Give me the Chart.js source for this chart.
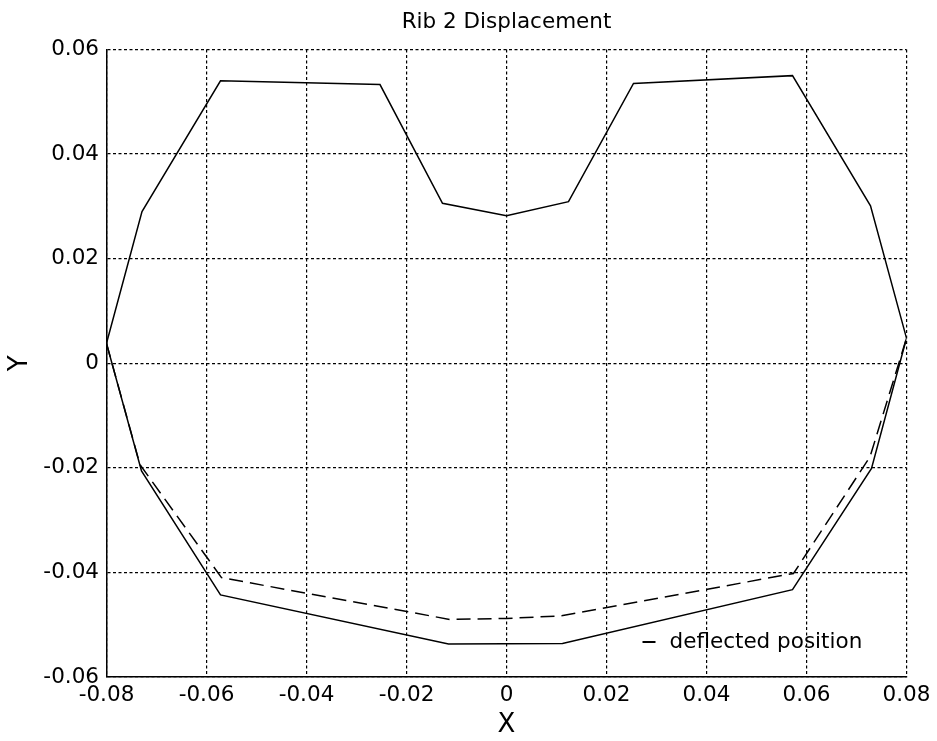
<!DOCTYPE html>
<html>
<head>
<meta charset="utf-8">
<script src="https://cdn.jsdelivr.net/npm/chart.js@4.4.1/dist/chart.umd.min.js"></script>
<style>
  html, body { margin: 0; padding: 0; background: #fff; }
  #wrap { width: 937px; height: 741px; }
</style>
</head>
<body>
<div id="wrap"><canvas id="c" width="937" height="741"></canvas></div>
<script>
// ---- data ----
const titleText = 'Rib 2 Displacement';
const xAxisTitle = 'X';
const yAxisTitle = 'Y';
const legendText = 'deflected position';

// original (solid) rib outline, closed loop
const solidX = [-0.08, -0.0729, -0.0572, -0.0253, -0.0128, 0.0, 0.0124, 0.0254, 0.0572, 0.0728, 0.080, 0.0730, 0.0572, 0.0112, -0.0116, -0.0572, -0.0730, -0.08];
const solidY = [0.0038, 0.0290, 0.0540, 0.0533, 0.0306, 0.0282, 0.0309, 0.0535, 0.0550, 0.0301, 0.0048, -0.0201, -0.0433, -0.0536, -0.0537, -0.0443, -0.0206, 0.0038];

// deflected (dashed) lower surface
const dashX = [-0.08, -0.0733, -0.0570, -0.0113, 0.0, 0.0110, 0.0574, 0.0727, 0.080];
const dashY = [0.0038, -0.0194, -0.0410, -0.0490, -0.0488, -0.0483, -0.0402, -0.0179, 0.0048];

const xTickValues = [-0.08, -0.06, -0.04, -0.02, 0, 0.02, 0.04, 0.06, 0.08];
const xTickLabels = ['-0.08', '-0.06', '-0.04', '-0.02', '0', '0.02', '0.04', '0.06', '0.08'];
const yTickValues = [-0.06, -0.04, -0.02, 0, 0.02, 0.04, 0.06];
const yTickLabels = ['-0.06', '-0.04', '-0.02', '0', '0.02', '0.04', '0.06'];

// ---- build ----
const toPts = (xs, ys) => xs.map((x, i) => ({x: x, y: ys[i]}));
const FONT = 'DejaVu Sans';

const legendPlugin = {
  id: 'cornerLegend',
  afterDraw(chart) {
    const {ctx, chartArea} = chart;
    ctx.save();
    const y = chartArea.bottom - 35;
    const x0 = chartArea.right - 264;
    ctx.strokeStyle = '#000';
    ctx.lineWidth = 2;
    ctx.beginPath();
    ctx.moveTo(x0, y);
    ctx.lineTo(x0 + 13, y);
    ctx.stroke();
    ctx.fillStyle = '#000';
    ctx.font = '21.5px "' + FONT + '"';
    ctx.textAlign = 'left';
    ctx.textBaseline = 'middle';
    ctx.fillText(legendText, x0 + 27, y);
    ctx.restore();
  }
};

new Chart(document.getElementById('c'), {
  type: 'scatter',
  data: {
    datasets: [
      {
        label: 'original position',
        data: toPts(solidX, solidY),
        showLine: true,
        borderColor: '#000',
        borderWidth: 1.5,
        pointRadius: 0,
        tension: 0,
        fill: false
      },
      {
        label: legendText,
        data: toPts(dashX, dashY),
        showLine: true,
        borderColor: '#000',
        borderWidth: 1.5,
        borderDash: [14, 7],
        pointRadius: 0,
        tension: 0,
        fill: false
      }
    ]
  },
  options: {
    responsive: false,
    animation: false,
    layout: { padding: { left: 0, top: 0, right: 30.5, bottom: 0 } },
    plugins: {
      legend: { display: false },
      tooltip: { enabled: false },
      title: {
        display: true,
        text: titleText,
        fullSize: false,
        color: '#000',
        font: { family: FONT, size: 21.5, weight: 'normal' },
        padding: { top: 10, bottom: 13.7 }
      }
    },
    scales: {
      x: {
        type: 'linear',
        min: -0.08,
        max: 0.08,
        afterBuildTicks(scale) { scale.ticks = xTickValues.map(v => ({value: v})); },
        afterFit(scale) { scale.height = 64; },
        ticks: {
          color: '#000',
          font: { family: FONT, size: 21.5 },
          padding: 6,
          maxRotation: 0,
          autoSkip: false,
          callback: (v, i) => xTickLabels[i]
        },
        grid: { color: '#000', lineWidth: 1.2, drawTicks: false },
        border: { display: true, color: '#000', width: 1.5, dash: [3, 2.5] },
        title: {
          display: true,
          text: xAxisTitle,
          color: '#000',
          font: { family: FONT, size: 26 },
          padding: { top: 0, bottom: 0 }
        }
      },
      y: {
        type: 'linear',
        min: -0.06,
        max: 0.06,
        afterBuildTicks(scale) { scale.ticks = yTickValues.map(v => ({value: v})); },
        afterFit(scale) { scale.width = 106.5; },
        ticks: {
          color: '#000',
          font: { family: FONT, size: 21.5 },
          padding: 7.5,
          autoSkip: false,
          callback: (v, i) => yTickLabels[i]
        },
        grid: { color: '#000', lineWidth: 1.2, drawTicks: false },
        border: { display: true, color: '#000', width: 1.5, dash: [3, 2.5] },
        title: {
          display: true,
          text: yAxisTitle,
          color: '#000',
          font: { family: FONT, size: 26 },
          padding: { top: 5, bottom: 0 }
        }
      }
    }
  },
  plugins: [legendPlugin]
});
</script>
</body>
</html>
